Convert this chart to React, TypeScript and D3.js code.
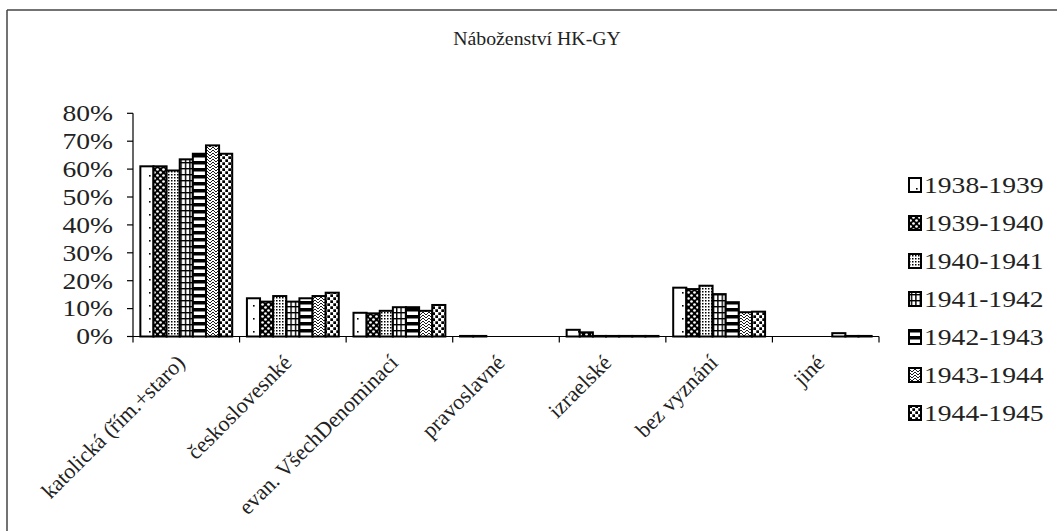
import React from "react";
import * as d3 from "d3";

const title = "Náboženství HK-GY";
const categories = [
  "katolická (řím.+staro)",
  "českoslovesnké",
  "evan. VšechDenominací",
  "pravoslavné",
  "izraelské",
  "bez vyznání",
  "jiné",
];
const seriesNames = ["1938-1939", "1939-1940", "1940-1941", "1941-1942", "1942-1943", "1943-1944", "1944-1945"];
const v1938 = [61, 13.7, 8.5, 0.2, 2.4, 17.5, 0];
const v1939 = [61, 12.5, 8.3, 0.2, 1.5, 17.0, 0];
const v1940 = [59.5, 14.5, 9.2, 0, 0.2, 18.2, 0];
const v1941 = [63.5, 12.5, 10.5, 0, 0.2, 15.2, 0];
const v1942 = [65.5, 13.7, 10.5, 0, 0.2, 12.3, 1.2];
const v1943 = [68.5, 14.5, 9.2, 0, 0.2, 8.7, 0.2];
const v1944 = [65.5, 15.7, 11.3, 0, 0.2, 8.9, 0.2];
const seriesValues = [v1938, v1939, v1940, v1941, v1942, v1943, v1944];
const yTicks = [0, 10, 20, 30, 40, 50, 60, 70, 80];

const W = 1057;
const H = 531;
const FONT = "'Liberation Serif', 'Times New Roman', serif";

function Patterns() {
  return (
    <defs>
      <pattern id="p0" width="13" height="13" patternUnits="userSpaceOnUse">
        <rect width="13" height="13" fill="#fff" />
        <rect x="6" y="6" width="1.6" height="1.6" fill="#000" />
      </pattern>
      <pattern id="p1" width="6" height="6" patternUnits="userSpaceOnUse">
        <rect width="6" height="6" fill="#000" />
        <circle cx="1.5" cy="1.5" r="1.35" fill="#fff" />
        <circle cx="4.5" cy="4.5" r="1.35" fill="#fff" />
      </pattern>
      <pattern id="p2" width="3" height="3" patternUnits="userSpaceOnUse">
        <rect width="3" height="3" fill="#fff" />
        <rect width="1.5" height="1.5" fill="#000" />
      </pattern>
      <pattern id="p3" width="4.4" height="6" patternUnits="userSpaceOnUse">
        <rect width="4.4" height="6" fill="#fff" />
        <rect x="0" y="0" width="1.4" height="6" fill="#000" />
        <rect x="0" y="0" width="4.4" height="1.4" fill="#000" />
      </pattern>
      <pattern id="p4" width="7" height="7" patternUnits="userSpaceOnUse">
        <rect width="7" height="7" fill="#fff" />
        <rect x="0" y="0" width="7" height="3.5" fill="#000" />
      </pattern>
      <pattern id="p5" width="6" height="6" patternUnits="userSpaceOnUse">
        <rect width="6" height="6" fill="#fff" />
        <path d="M0,3 L3,0 L6,3 M0,6 L3,3 L6,6" stroke="#000" strokeWidth="0.9" fill="none" />
      </pattern>
      <pattern id="p6" width="6" height="6" patternUnits="userSpaceOnUse">
        <rect width="6" height="6" fill="#fff" />
        <rect x="0.3" y="0.3" width="2.7" height="2.7" fill="#000" />
        <rect x="3.3" y="3.3" width="2.7" height="2.7" fill="#000" />
      </pattern>
    </defs>
  );
}

export default function App() {
  const left = 133;
  const right = 879;
  const top = 113.3;
  const bottom = 336.5;

  const x0 = d3.scaleBand<string>().domain(categories).range([left, right]).paddingInner(0).paddingOuter(0);
  const bw = x0.bandwidth();
  const x1 = d3
    .scaleBand<string>()
    .domain(seriesNames)
    .range([0, bw])
    .paddingInner(0)
    .paddingOuter(0.56);
  const y = d3.scaleLinear().domain([0, 80]).range([bottom, top]);

  const legendX = 909;
  const legendY0 = 185;
  const legendStep = 38;

  return (
    <svg
      width={W}
      height={H}
      viewBox={`0 0 ${W} ${H}`}
      style={{ position: "absolute", left: 0, top: 0, background: "#fff" }}
      fontFamily={FONT}
    >
      <Patterns />
      <rect width={W} height={H} fill="#fff" />
      {/* frame */}
      <line x1={7} y1={10} x2={W} y2={10} stroke="#444" strokeWidth={1.5} />
      <line x1={7} y1={10} x2={7} y2={H} stroke="#444" strokeWidth={1.5} />

      {/* title */}
      <text
        transform={`translate(${537},${45}) scale(1.1,1)`}
        textAnchor="middle"
        fontSize={18}
        fill="#222"
      >
        {title}
      </text>

      {/* bars */}
      {categories.map((c, ci) => (
        <g key={c}>
          {seriesNames.map((s, si) => {
            const v = seriesValues[si][ci];
            if (v <= 0) return null;
            const bx = (x0(c) as number) + (x1(s) as number);
            const by = y(v);
            return (
              <rect
                key={s}
                x={bx}
                y={by}
                width={x1.bandwidth()}
                height={bottom - by}
                fill={`url(#p${si})`}
                stroke="#000"
                strokeWidth={2}
              />
            );
          })}
        </g>
      ))}

      {/* y axis */}
      <line x1={left} y1={top} x2={left} y2={bottom} stroke="#000" strokeWidth={1.2} />
      {yTicks.map((t) => (
        <g key={t}>
          <line x1={left - 6} x2={left} y1={y(t)} y2={y(t)} stroke="#000" strokeWidth={1.2} />
          <text
            transform={`translate(${113},${y(t)}) scale(1.2,1)`}
            textAnchor="end"
            dy="0.34em"
            fontSize={23}
            fill="#222"
          >
            {t}%
          </text>
        </g>
      ))}

      {/* x axis */}
      <line x1={left} y1={bottom} x2={right} y2={bottom} stroke="#000" strokeWidth={1.2} />
      {categories.map((c) => (
        <line
          key={"t" + c}
          x1={x0(c) as number}
          x2={x0(c) as number}
          y1={bottom}
          y2={bottom + 6}
          stroke="#000"
          strokeWidth={1.2}
        />
      ))}
      <line x1={right} x2={right} y1={bottom} y2={bottom + 6} stroke="#000" strokeWidth={1.2} />
      {categories.map((c) => (
        <text
          key={"l" + c}
          transform={`translate(${(x0(c) as number) + bw / 2},${364}) rotate(-45)`}
          textAnchor="end"
          fontSize={22}
          fill="#222"
        >
          {c}
        </text>
      ))}

      {/* legend */}
      {seriesNames.map((s, si) => {
        const cy = legendY0 + si * legendStep;
        return (
          <g key={"lg" + s}>
            <rect
              x={legendX}
              y={cy - 7}
              width={12}
              height={14}
              fill={`url(#p${si})`}
              stroke="#000"
              strokeWidth={2}
            />
            <text
              transform={`translate(${924},${cy}) scale(1.2,1)`}
              dy="0.34em"
              fontSize={23}
              fill="#222"
            >
              {s}
            </text>
          </g>
        );
      })}
    </svg>
  );
}
